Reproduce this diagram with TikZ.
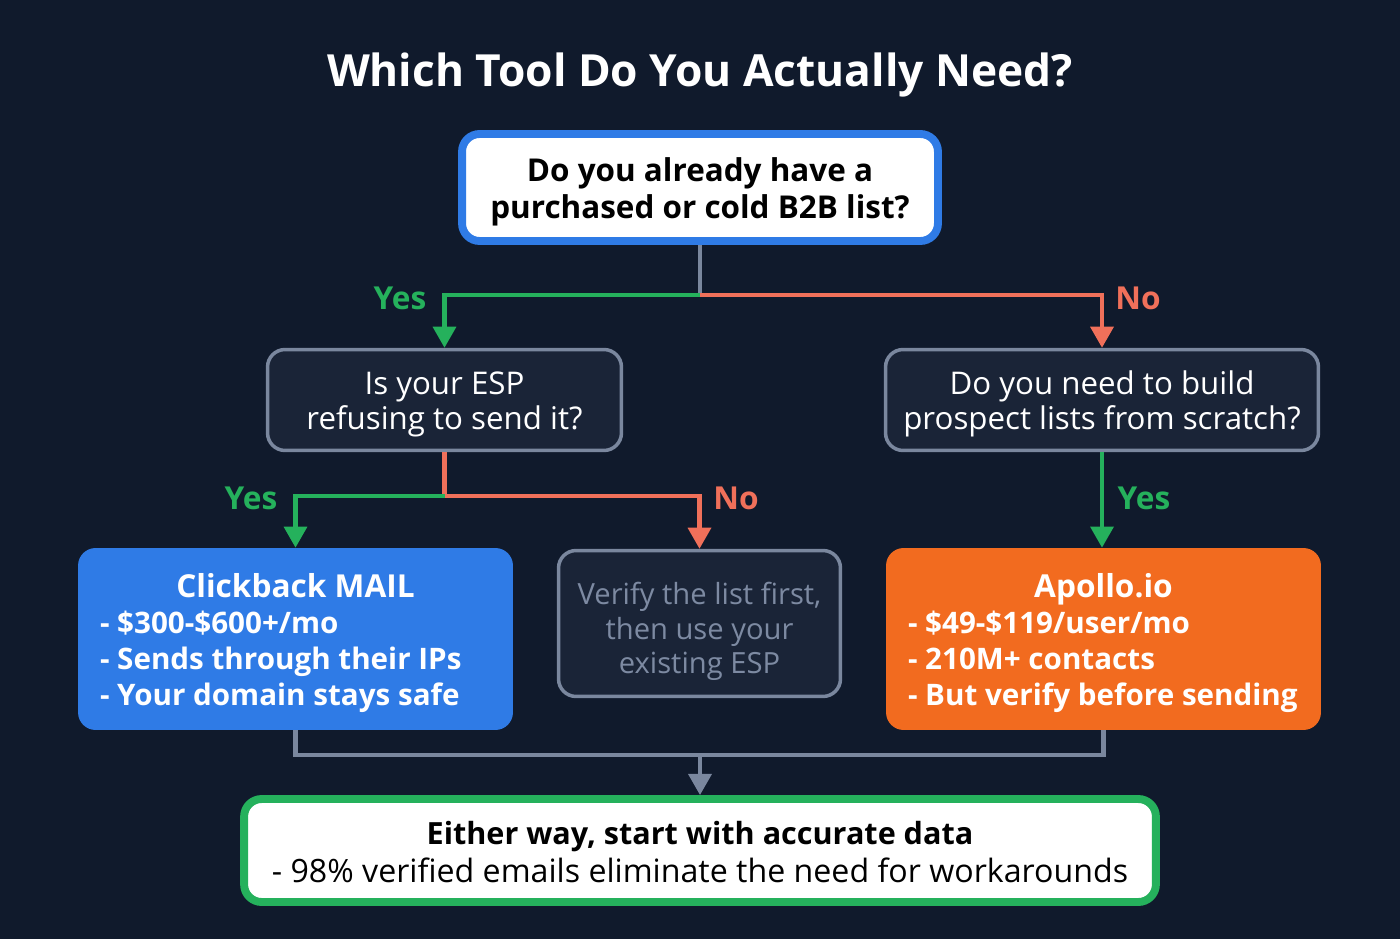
\documentclass[tikz,border=0pt]{standalone}
\usepackage{fontspec}
\setmainfont{Open Sans}
\usetikzlibrary{arrows.meta}

\definecolor{bgnavy}{HTML}{101A2C}
\definecolor{boxnavy}{HTML}{1A2437}
\definecolor{edgegray}{HTML}{7A879E}
\definecolor{yesgreen}{HTML}{25B15C}
\definecolor{nored}{HTML}{F0705A}
\definecolor{clickblue}{HTML}{2F7BE6}
\definecolor{apolloorange}{HTML}{F26B1F}
\definecolor{mutedtext}{HTML}{7D8AA2}

\tikzset{
  tip/.style={-{Triangle[width=13pt,length=12pt]}},
  lift/.style={execute at begin node={\rule{0pt}{#1}}},
  qbox/.style={draw=edgegray, line width=2pt, fill=boxnavy, rounded corners=10pt,
    text=white, align=flush center, minimum height=2.02cm, inner sep=0pt, lift=17.5pt,
    font=\fontsize{17.8}{20}\selectfont},
  optbox/.style={rounded corners=10pt, text=white, align=flush left, inner xsep=0.44cm,
    text width=7.82cm, minimum height=3.64cm, lift=18pt,
    font=\bfseries\fontsize{16.85}{20.4}\selectfont},
  yesline/.style={draw=yesgreen, line width=2.3pt, tip},
  noline/.style={draw=nored, line width=2.3pt, tip},
  grayline/.style={draw=edgegray, line width=2.3pt},
  yeslabel/.style={text=yesgreen, font=\bfseries\fontsize{18}{18}\selectfont},
  nolabel/.style={text=nored, font=\bfseries\fontsize{18}{18}\selectfont}
}
\newcommand{\boxhead}[1]{\makebox[7.82cm]{\fontsize{18}{20.4}\selectfont #1}}

\begin{document}
\begin{tikzpicture}[x=0.02cm,y=-0.02cm]
    \fill[bgnavy] (0,0) rectangle (1400,939);
    \useasboundingbox (0,0) rectangle (1400,939);

    % title
    \node[text=white, font=\bfseries\fontsize{25.2}{30}\selectfont] (title) at (700,75) {Which Tool Do You Actually Need?};

    % questions
    \node[draw=clickblue, line width=4.5pt, fill=white, rounded corners=10pt, align=flush center,
      text width=9.52cm, minimum height=2.14cm, inner sep=0pt, lift=19pt,
      font=\bfseries\fontsize{17.9}{21}\selectfont] (top) at (700,187.5)
      {Do you already have a\\purchased or cold B2B list?};
    \node[qbox, text width=7.08cm] (espq) at (444.5,400) {Is your ESP\\refusing to send it?};
    \node[qbox, text width=8.66cm] (buildq) at (1102,400) {Do you need to build\\prospect lists from scratch?};

    % answers
    \node[optbox, fill=clickblue] (click) at (295.5,639)
      {\boxhead{Clickback MAIL}\\- \$300-\$600+/mo\\- Sends through their IPs\\- Your domain stays safe};
    \node[draw=edgegray, line width=2pt, fill=boxnavy, rounded corners=10pt, align=flush center,
      text width=5.64cm, minimum height=2.92cm, inner sep=0pt, text=mutedtext, lift=22pt,
      font=\fontsize{16.6}{19.6}\selectfont] (verify) at (699.5,623.5)
      {Verify the list first,\\then use your\\existing ESP};
    \node[optbox, fill=apolloorange] (apollo) at (1103.5,639)
      {\boxhead{Apollo.io}\\- \$49-\$119/user/mo\\- 210M+ contacts\\- But verify before sending};

    % result
    \node[draw=yesgreen, line width=4.5pt, fill=white, rounded corners=10pt, align=flush center,
      text width=18.24cm, minimum height=2.06cm, inner sep=0pt, lift=15pt,
      font=\fontsize{18.3}{21.5}\selectfont] (result) at (700,850.5)
      {\textbf{\fontsize{17.4}{21.5}\selectfont Either way, start with accurate data}\\- 98\% verified emails eliminate the need for workarounds};

    % first split
    \coordinate (split1) at (700,295);
    \draw[grayline] (top.south) -- (split1);
    \draw[yesline] (split1) -| (espq.north);
    \draw[noline] (split1) -| (buildq.north);
    \node[yeslabel] (yes1) at (400,298) {Yes};
    \node[nolabel] (no1) at (1138,298) {No};

    % second split
    \coordinate (split2) at (444.5,496);
    \draw[draw=nored, line width=2.3pt] (espq.south) -- (split2);
    \draw[yesline] (split2) -| (click.north);
    \draw[noline] (split2) -| (verify.north);
    \draw[yesline] (buildq.south) -- (buildq.south |- apollo.north);
    \node[yeslabel] (yes2) at (251,498) {Yes};
    \node[nolabel] (no2) at (736,498) {No};
    \node[yeslabel] (yes3) at (1144,498) {Yes};

    % merge
    \coordinate (merge) at (700,755);
    \draw[grayline] (click.south) -- ++(0,25) -| (apollo.south);
    \draw[grayline, tip] (merge) -- (result.north);
\end{tikzpicture}
\end{document}
